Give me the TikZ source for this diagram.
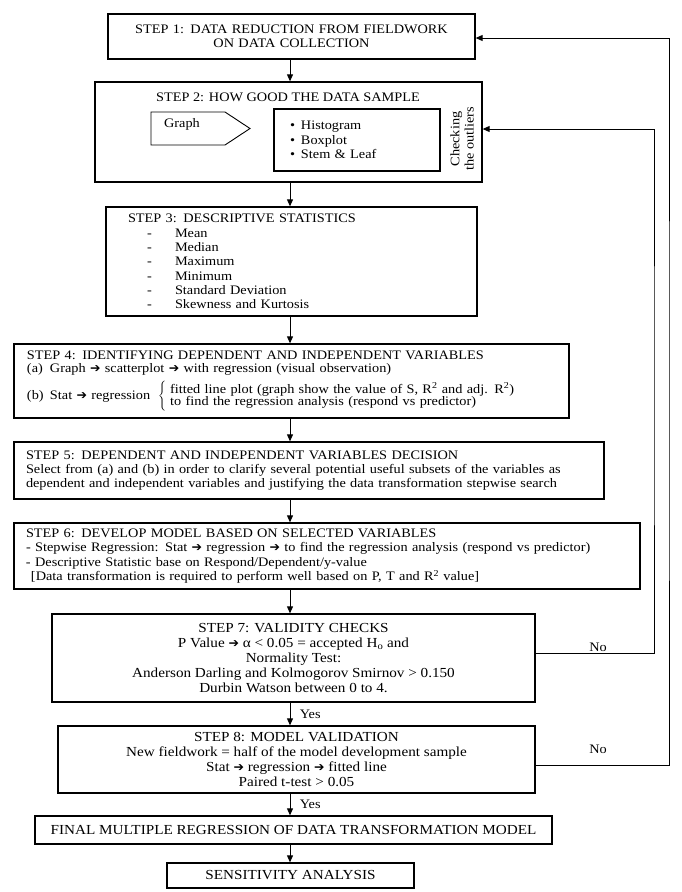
\documentclass[tikz,border=0pt]{standalone}
\usepackage{fontspec}
\setmainfont{Liberation Serif}[FakeStretch=1.1]
\newfontfamily\arrowfont{DejaVu Sans}
\usetikzlibrary{arrows.meta,positioning}
\newcommand{\dashitem}[1]{\hspace*{19pt}\makebox[28pt][l]{-}#1}
\newcommand{\bitem}[1]{\textbullet\hspace{6pt}#1}
\newcommand{\Rsq}{R\textsuperscript{2}}
\newcommand{\goto}{{\arrowfont\fontsize{12.5}{12}\selectfont ➔}}

\begin{document}
\begin{tikzpicture}[x=1pt,y=-1pt,
  every node/.style={font=\fontsize{13}{14.3}\selectfont},
  bigtext/.style={font=\fontsize{13.8}{14.8}\selectfont},
  stepbox/.style={draw,line width=1.3pt,inner ysep=0pt},
  flow/.style={line width=0.9pt,-{Triangle[length=7pt,width=6pt]}}]
\useasboundingbox (0,0) rectangle (681,892);
\coordinate (axis) at (290,0);

%step 1
\node[stepbox,text width=353pt,inner xsep=7pt,minimum height=45pt,align=center] (step1) at (291.5,36.5)
  {STEP 1: DATA REDUCTION FROM FIELDWORK\\ON DATA COLLECTION};

%step 2
\node[stepbox,minimum width=387pt,minimum height=100pt] (step2) at (288.5,132) {};
\node (step2title) at (288,97) {STEP 2: HOW GOOD THE DATA SAMPLE};
\draw[line width=0.9pt] (151,112) -- (225,112) -- (250,128.5) -- (225,145) -- (151,145) -- cycle;
\node (graph) at (182,124) {Graph};
\node[draw,line width=1.3pt,text width=134pt,inner xsep=16pt,minimum height=62pt,align=left] (plots) at (357,140)
  {\bitem{Histogram}\\\bitem{Boxplot}\\\bitem{Stem \& Leaf}};
\node[rotate=90,align=center] (outliers) at (462,139) {Checking\\the outliers};

%step 3
\node[stepbox,text width=327pt,inner xsep=22pt,minimum height=109pt,align=left] (step3) at (291.5,261.5)
  {STEP 3: DESCRIPTIVE STATISTICS\\\dashitem{Mean}\\\dashitem{Median}\\\dashitem{Maximum}\\
   \dashitem{Minimum}\\\dashitem{Standard Deviation}\\\dashitem{Skewness and Kurtosis}};

%step 4
\node[stepbox,text width=529pt,inner xsep=13pt,minimum height=74pt,align=left] (step4) at (291.5,381)
  {STEP 4: IDENTIFYING DEPENDENT AND INDEPENDENT VARIABLES\\[-1pt]
   \makebox[23pt][l]{(a)}Graph \goto{} scatterplot \goto{} with regression (visual observation)\\[5pt]
   \makebox[23pt][l]{(b)}Stat \goto{} regression\hspace{8pt}$\left\{\begin{tabular}{@{\hspace{4pt}}l@{}}
     fitted line plot (graph show the value of S, \Rsq{} and adj. \Rsq)\\[-1.5pt]
     to find the regression analysis (respond vs predictor)\end{tabular}\right.$};

%step 5
\node[stepbox,text width=566pt,inner xsep=12pt,minimum height=57pt,align=left] (step5) at (309,470.5)
  {STEP 5: DEPENDENT AND INDEPENDENT VARIABLES DECISION\\
   Select from (a) and (b) in order to clarify several potential useful subsets of the variables as\\
   dependent and independent variables and justifying the data transformation stepwise search};

%step 6
\node[stepbox,text width=602pt,inner xsep=12pt,minimum height=66pt,align=left] (step6) at (327,556)
  {STEP 6: DEVELOP MODEL BASED ON SELECTED VARIABLES\\
   - Stepwise Regression: Stat \goto{} regression \goto{} to find the regression analysis (respond vs predictor)\\
   - Descriptive Statistic base on Respond/Dependent/y-value\\
   \hspace*{5pt}[Data transformation is required to perform well based on P, T and \Rsq{} value]};

%step 7
\node[stepbox,bigtext,minimum width=483pt,minimum height=88pt,align=center] (step7) at (293.5,658)
  {STEP 7: VALIDITY CHECKS\\
   P Value \goto{} α < 0.05 = accepted H\textsubscript{o} and\\
   Normality Test:\\
   Anderson Darling and Kolmogorov Smirnov > 0.150\\
   Durbin Watson between 0 to 4.};

%step 8
\node[stepbox,bigtext,minimum width=477pt,minimum height=67pt,align=center] (step8) at (296.5,759.5)
  {STEP 8: MODEL VALIDATION\\
   New fieldwork = half of the model development sample\\
   Stat \goto{} regression \goto{} fitted line\\
   Paired t-test > 0.05};

%final model
\node[stepbox,bigtext,minimum width=517pt,minimum height=28pt] (final) at (293.5,830)
  {FINAL MULTIPLE REGRESSION OF DATA TRANSFORMATION MODEL};

%sensitivity
\node[stepbox,bigtext,minimum width=247pt,minimum height=25pt] (sens) at (290.5,875.5) {SENSITIVITY ANALYSIS};

%down arrows
\foreach \a/\b in {step1/step2,step2/step3,step3/step4,step4/step5,step5/step6,step6/step7,final/sens}
  \draw[flow] (\a.south -| axis) -- (\b.north -| axis);
\draw[flow] (step7.south -| axis) -- node[right=6pt] (yes1) {Yes} (step8.north -| axis);
\draw[flow] (step8.south -| axis) -- node[right=6pt] (yes2) {Yes} (final.north -| axis);

%feedback loops
\coordinate (loopin) at (654,400);
\coordinate (loopout) at (669,400);
\draw[flow] ([yshift=5pt]step7.east) -| (loopin) |- ([yshift=3pt]step2.east);
\draw[flow] ([yshift=-5.5pt]step8.east) -| (loopout) |- ([yshift=-1.5pt]step1.east);
\node (no1) at (598,647) {No};
\node (no2) at (598,749) {No};
\end{tikzpicture}
\end{document}
